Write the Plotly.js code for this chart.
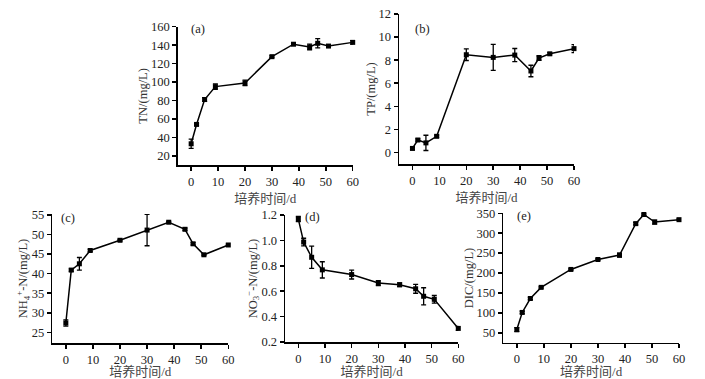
<!DOCTYPE html>
<html>
<head>
<meta charset="utf-8">
<script src="https://cdn.plot.ly/plotly-3.0.1.min.js"></script>
<style>html,body{margin:0;padding:0;background:#fff;}#chart{width:705px;height:379px;}</style>
</head>
<body>
<div id="chart"></div>
<script>
// ---- data ----
const days   = [0, 2, 5, 9, 20, 30, 38, 44, 47, 51, 60];
const tn     = [33, 54, 81, 95, 99, 127.5, 141, 138, 142, 139, 143];
const tnErr  = [5, 1, 2, 3, 3, 1, 1, 3, 5, 1, 2];
const tp     = [0.35, 1.08, 0.83, 1.4, 8.47, 8.24, 8.44, 7.06, 8.18, 8.55, 9.0];
const tpErr  = [0.1, 0.1, 0.66, 0.1, 0.5, 1.13, 0.57, 0.5, 0.2, 0.1, 0.35];
const nh4    = [27.4, 40.9, 42.5, 45.9, 48.5, 51.1, 53.1, 51.3, 47.6, 44.8, 47.3];
const nh4Err = [0.8, 0.3, 1.6, 0.3, 0.2, 4, 0.2, 0.3, 0.3, 0.2, 0.2];
const no3    = [1.168, 0.987, 0.867, 0.768, 0.731, 0.664, 0.651, 0.619, 0.56, 0.536, 0.307];
const no3Err = [0.02, 0.03, 0.088, 0.064, 0.035, 0.02, 0.015, 0.035, 0.067, 0.03, 0.015];
const dic    = [58, 101, 136, 164, 209, 234, 245, 324, 347, 328, 334];
const dicErr = [5, 3, 3, 2, 2, 2, 5, 3, 2, 5, 2];

const panelLabels = ['(a)', '(b)', '(c)', '(d)', '(e)'];
const yTitles = ['TN/(mg/L)', 'TP/(mg/L)', 'NH<sub>4</sub><sup>+</sup>-N/(mg/L)', 'NO<sub>3</sub><sup>−</sup>-N/(mg/L)', 'DIC/(mg/L)'];
const xTitle = '培养时间/d';
const xTicks = [0, 10, 20, 30, 40, 50, 60];

// ---- layout geometry ----
const W = 705, H = 379;
const boxes = [ // [left, right, top, bottom] in px
  [177.7, 352.7, 26.7, 165],
  [399, 574, 14, 164],
  [52.3, 228.3, 214, 343],
  [285, 458.3, 215, 342],
  [503.3, 679, 213.3, 342.7]
];
const yRanges = [[10, 160], [-1, 12], [22.3, 55.2], [0.2, 1.2], [25, 350]];
const yTickVals = [
  [20, 40, 60, 80, 100, 120, 140, 160],
  [0, 2, 4, 6, 8, 10, 12],
  [25, 30, 35, 40, 45, 50, 55],
  [0.2, 0.4, 0.6, 0.8, 1.0, 1.2],
  [50, 100, 150, 200, 250, 300, 350]
];
const yTickFmt = ['', '', '', '.1f', ''];
const labelPos = [[11, 2.5], [14, 15], [7, 3.5], [18, 2], [12, 3]];

const series = [[tn, tnErr], [tp, tpErr], [nh4, nh4Err], [no3, no3Err], [dic, dicErr]];
const serif = "'Liberation Serif', 'DejaVu Serif', serif";
const cjk = "'Liberation Serif', 'Noto Sans CJK SC', serif";

const data = [];
const layout = {
  width: W, height: H,
  margin: {l: 0, r: 0, t: 0, b: 0},
  paper_bgcolor: '#fff', plot_bgcolor: '#fff',
  showlegend: false,
  font: {family: serif, size: 12, color: '#222'},
  annotations: []
};

series.forEach((s, i) => {
  const n = i + 1;
  const xa = 'x' + (n === 1 ? '' : n), ya = 'y' + (n === 1 ? '' : n);
  data.push({
    x: days, y: s[0], xaxis: xa, yaxis: ya,
    type: 'scatter', mode: 'lines+markers',
    line: {color: '#000', width: 1.5},
    marker: {symbol: 'square', size: 5, color: '#000'},
    error_y: {type: 'data', array: s[1], visible: true, color: '#000', thickness: 1.3, width: 2.5},
    cliponaxis: false
  });
  const b = boxes[i];
  const axBase = {
    showgrid: false, zeroline: false, showline: true, linecolor: '#000', linewidth: 1.5,
    ticks: 'outside', ticklen: 4, tickwidth: 1.5, tickcolor: '#000',
    tickfont: {family: serif, size: 12.5, color: '#222'}
  };
  layout['xaxis' + (n === 1 ? '' : n)] = Object.assign({}, axBase, {
    domain: [b[0] / W, b[1] / W], anchor: ya,
    range: [-5, 60], tickvals: xTicks, ticktext: xTicks.map(String),
    title: {text: xTitle, font: {family: cjk, size: 13, color: '#444'}, standoff: 6}
  });
  layout['yaxis' + (n === 1 ? '' : n)] = Object.assign({}, axBase, {
    domain: [1 - b[3] / H, 1 - b[2] / H], anchor: xa,
    range: yRanges[i], tickvals: yTickVals[i],
    tickformat: yTickFmt[i],
    title: {text: yTitles[i], font: {family: serif, size: 12.5, color: '#333'}, standoff: 0}
  });
  const w = b[1] - b[0], h = b[3] - b[2];
  layout.annotations.push({
    text: panelLabels[i], showarrow: false,
    xref: xa + ' domain', yref: ya + ' domain',
    x: labelPos[i][0] / w, y: 1 - labelPos[i][1] / h,
    xanchor: 'left', yanchor: 'middle',
    font: {family: serif, size: 12.5, color: '#222'}
  });
});

Plotly.newPlot('chart', data, layout, {displayModeBar: false, staticPlot: true});
</script>
</body>
</html>
